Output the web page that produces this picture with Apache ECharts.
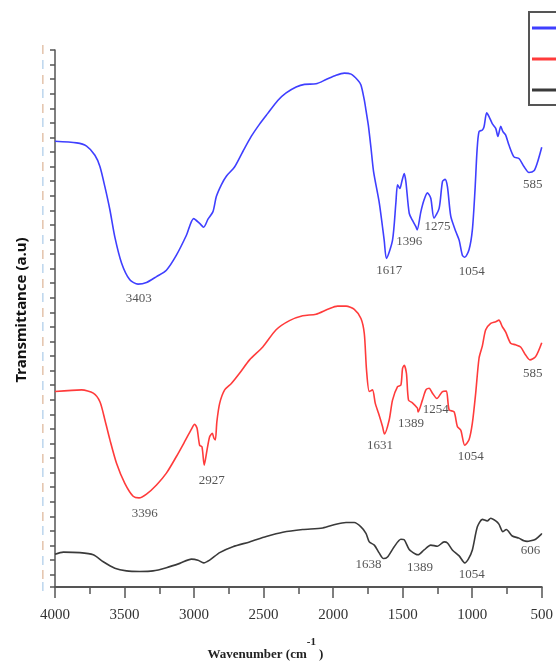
<!DOCTYPE html>
<html>
<head>
<meta charset="utf-8">
<script src="https://cdn.jsdelivr.net/npm/echarts@6/dist/echarts.min.js"></script>
<style>html,body{margin:0;padding:0;background:#fff;}#chart{width:556px;height:671px;}</style>
</head>
<body>
<div id="chart"></div>
<script>
// Series names (legend text is clipped at the right edge in the reference)
const seriesNames = ['Sample 1', 'Sample 2', 'Sample 3'];
const seriesColors = ['#3f3fff', '#ff3b3b', '#3a3a3a'];

// [wavenumber (cm-1), transmittance (a.u.)]
const blueSpectrum = [[4000,83.0],[3844,82.7],[3773,82.1],[3713,80.4],[3677,78.3],[3641,74.5],[3605,70.2],[3570,65.2],[3521,60.3],[3462,57.2],[3403,56.4],[3342,56.7],[3270,57.8],[3199,59.0],[3127,61.8],[3055,65.5],[3003,68.6],[2960,67.7],[2931,67.0],[2900,68.5],[2864,69.9],[2840,72.7],[2804,74.9],[2768,76.5],[2709,78.2],[2649,81.1],[2589,83.9],[2529,86.2],[2470,88.2],[2398,90.6],[2338,92.0],[2266,93.1],[2206,93.6],[2123,93.7],[2051,94.5],[1979,95.3],[1920,95.7],[1871,95.5],[1824,94.4],[1800,93.5],[1776,90.7],[1764,88.8],[1747,86.0],[1728,81.8],[1709,77.3],[1668,71.5],[1633,64.6],[1617,61.2],[1573,64.6],[1549,71.5],[1537,74.9],[1520,74.2],[1506,75.5],[1489,77.0],[1477,75.5],[1453,69.6],[1430,68.3],[1405,67.1],[1396,66.5],[1369,69.9],[1346,72.1],[1322,73.4],[1298,72.4],[1275,68.7],[1238,70.5],[1214,75.5],[1195,75.9],[1178,74.5],[1154,69.0],[1118,66.2],[1094,64.6],[1071,61.8],[1054,61.4],[1023,62.8],[999,66.5],[980,73.9],[965,81.4],[951,84.8],[927,85.1],[915,85.7],[896,88.3],[879,87.6],[856,86.3],[831,85.4],[815,83.9],[795,85.8],[779,84.8],[760,84.2],[736,82.3],[700,80.1],[664,79.8],[628,78.3],[592,77.2],[556,77.5],[533,78.9],[500,81.9]];

const redSpectrum = [[4000,36.4],[3808,36.7],[3725,36.1],[3677,34.5],[3641,31.1],[3605,27.4],[3557,23.0],[3498,19.3],[3438,16.9],[3396,16.6],[3342,17.3],[3270,19.0],[3199,21.2],[3127,24.3],[3067,27.1],[3019,29.4],[2996,30.3],[2979,29.6],[2960,26.4],[2943,26.1],[2927,22.7],[2907,25.5],[2888,28.0],[2869,28.6],[2857,27.7],[2847,27.4],[2836,30.8],[2816,34.2],[2780,36.7],[2732,37.9],[2673,39.8],[2601,42.3],[2506,44.7],[2410,47.9],[2314,49.6],[2219,50.5],[2123,50.8],[2039,51.7],[1968,52.3],[1907,52.3],[1848,51.7],[1800,50.0],[1776,47.2],[1760,40.4],[1740,36.4],[1717,36.7],[1697,34.2],[1673,32.3],[1645,29.9],[1631,28.5],[1597,31.1],[1573,34.8],[1537,37.3],[1513,37.6],[1501,40.7],[1489,41.3],[1473,39.8],[1458,34.8],[1430,34.3],[1394,33.3],[1389,32.6],[1358,34.8],[1333,36.7],[1310,37.0],[1286,36.1],[1254,35.1],[1214,36.4],[1186,36.5],[1166,33.0],[1130,32.6],[1107,29.9],[1082,29.2],[1054,26.4],[1023,27.4],[999,30.5],[975,36.1],[951,42.6],[927,44.9],[903,47.9],[867,49.1],[831,49.4],[808,49.7],[784,48.5],[760,47.5],[724,45.4],[688,45.1],[652,44.7],[616,43.2],[585,42.3],[544,42.9],[500,45.5]];

const blackSpectrum = [[4000,6.1],[3940,6.5],[3821,6.4],[3725,6.0],[3653,4.7],[3570,3.5],[3486,3.0],[3390,2.9],[3295,3.0],[3199,3.6],[3103,4.4],[3019,5.2],[2972,5.0],[2931,4.5],[2888,5.0],[2816,6.4],[2721,7.5],[2601,8.4],[2481,9.4],[2362,10.2],[2219,10.7],[2075,11.0],[1979,11.7],[1907,12.0],[1848,12.0],[1800,11.2],[1764,10.0],[1740,8.4],[1704,7.8],[1668,6.3],[1638,5.3],[1609,5.6],[1561,7.5],[1513,8.9],[1489,8.8],[1453,7.0],[1405,6.1],[1389,6.0],[1346,6.9],[1298,7.8],[1250,7.6],[1202,8.4],[1178,8.2],[1143,6.9],[1094,5.8],[1054,4.5],[1028,5.2],[999,6.9],[963,11.2],[927,12.6],[892,12.3],[867,12.8],[831,12.3],[808,11.7],[779,10.3],[755,10.7],[712,9.5],[664,9.1],[628,8.6],[606,8.5],[580,8.6],[544,8.9],[508,9.7],[500,10.0]];

// Peak annotations: [wavenumber position, transmittance position, text]
const blueLabels = [[3398,53.8,'3403'],[1597,59.0,'1617'],[1453,64.3,'1396'],[1250,67.2,'1275'],[1003,58.7,'1054'],[564,75.0,'585']];
const redLabels = [[3354,13.6,'3396'],[2872,19.9,'2927'],[1663,26.4,'1631'],[1441,30.5,'1389'],[1262,33.1,'1254'],[1010,24.3,'1054'],[564,39.7,'585']];
const blackLabels = [[1745,4.1,'1638'],[1376,3.6,'1389'],[1003,2.4,'1054'],[580,6.8,'606']];

// X tick labels
const xTicks = [500, 1000, 1500, 2000, 2500, 3000, 3500, 4000];

const chart = echarts.init(document.getElementById('chart'), null, {renderer: 'canvas'});

const axisGray = '#555';
const serif = '"Liberation Serif", "Times New Roman", serif';

function lineSeries(name, data, color) {
  return {
    name: name, type: 'line', data: data, xAxisIndex: 0, yAxisIndex: 0,
    showSymbol: false, symbol: 'none', smooth: 0.25,
    lineStyle: {color: color, width: 1.6}, itemStyle: {color: color},
    z: 3
  };
}
function labelSeries(data) {
  return {
    type: 'scatter', data: data, xAxisIndex: 0, yAxisIndex: 0,
    symbolSize: 0, silent: true, z: 4,
    label: {
      show: true, position: 'inside',
      formatter: p => p.data[2],
      fontFamily: serif, fontSize: 13, color: '#2b2b2b'
    }
  };
}

const option = {
  backgroundColor: '#fff',
  animation: false,
  grid: {left: 55, right: 13, top: 50, bottom: 84, containLabel: false},
  legend: {
    data: seriesNames,
    orient: 'vertical', left: 529, top: 12,
    icon: 'rect', itemWidth: 40, itemHeight: 3, itemGap: 15,
    padding: [8, 4, 7, 3],
    borderColor: '#555', borderWidth: 2,
    textStyle: {fontSize: 12, lineHeight: 16, color: '#333'}
  },
  xAxis: {
    type: 'value', min: 500, max: 4000, interval: 500, inverse: true,
    axisLine: {lineStyle: {color: axisGray, width: 2}},
    axisTick: {length: 11, lineStyle: {color: axisGray, width: 1.5}},
    minorTick: {show: true, splitNumber: 2, length: 7, lineStyle: {color: axisGray, width: 1.5}},
    splitLine: {show: false},
    axisLabel: {
      fontFamily: serif, fontSize: 15, color: '#333', margin: 21,
      formatter: v => (xTicks.indexOf(v) >= 0 ? String(v) : '')
    },
    name: '{a|Wavenumber (cm}{s|-1}{a|)}',
    nameLocation: 'middle', nameGap: 50,
    nameTextStyle: {
      padding: [0, 66, 0, 0],
      rich: {
        a: {fontFamily: serif, fontWeight: 'bold', fontSize: 13, color: '#222', verticalAlign: 'bottom'},
        s: {fontFamily: serif, fontWeight: 'bold', fontSize: 11, color: '#222', verticalAlign: 'bottom', padding: [0, 3, 13, 0]}
      }
    }
  },
  yAxis: [
    {
      type: 'value', min: 0, max: 100, show: false
    },
    {
      type: 'value', inverse: true, min: 0, max: 36.85, interval: 1, position: 'left',
      axisLine: {show: true, lineStyle: {color: axisGray, width: 1.5}},
      axisTick: {show: true, length: 5, lineStyle: {color: axisGray, width: 1.5}},
      splitLine: {show: false},
      axisLabel: {
        margin: 11,
        formatter: v => (Math.round(v) % 2 === 0 ? '{o||}' : '{b||}'),
        rich: {
          o: {color: '#c98a5c', fontSize: 9},
          b: {color: '#7fb0dd', fontSize: 9}
        }
      },
      name: 'Transmittance (a.u)',
      nameLocation: 'middle', nameGap: 26, nameRotate: 90,
      nameTextStyle: {
        fontFamily: '"Noto Sans", "Liberation Sans", sans-serif',
        fontWeight: 'bold', fontSize: 15, color: '#111',
        padding: [0, 0, 0, 17]
      }
    }
  ],
  series: [
    lineSeries(seriesNames[0], blueSpectrum, seriesColors[0]),
    lineSeries(seriesNames[1], redSpectrum, seriesColors[1]),
    lineSeries(seriesNames[2], blackSpectrum, seriesColors[2]),
    labelSeries(blueLabels),
    labelSeries(redLabels),
    labelSeries(blackLabels)
  ]
};
chart.setOption(option);
</script>
</body>
</html>
